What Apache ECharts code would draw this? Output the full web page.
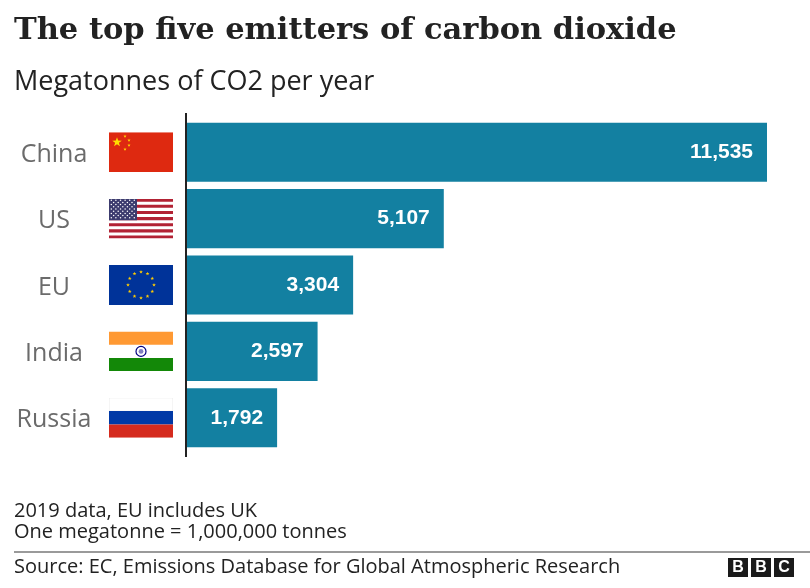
<!DOCTYPE html>
<html>
<head>
<meta charset="utf-8">
<title>The top five emitters of carbon dioxide</title>
<script src="https://cdn.jsdelivr.net/npm/echarts@6/dist/echarts.min.js"></script>
<style>
  html, body { margin: 0; padding: 0; background: #fff; }
  #chart { width: 810px; height: 588px; }
</style>
</head>
<body>
<div id="chart"></div>
<script>
// data
const countries = ['China', 'US', 'EU', 'India', 'Russia']
const emissions = [11535, 5107, 3304, 2597, 1792]

const titleText = 'The top five emitters of carbon dioxide'
const subtitleText = 'Megatonnes of CO2 per year'
const notes = ['2019 data, EU includes UK', 'One megatonne = 1,000,000 tonnes']
const sourceText = 'Source: EC, Emissions Database for Global Atmospheric Research'

const BAR = '#1380A1'
const SANS = '"Open Sans", "Noto Sans", sans-serif'

// small helpers for the flag pictures
let star = (cx, cy, r, rot) => {
  let pts = []
  for (let i = 0; i < 10; i++) {
    let rr = i % 2 === 0 ? r : r * 0.4
    let a = -Math.PI / 2 + (rot || 0) + i * Math.PI / 5
    pts.push((cx + rr * Math.cos(a)).toFixed(2) + ',' + (cy + rr * Math.sin(a)).toFixed(2))
  }
  return pts.join(' ')
}
let svgUrl = (body) => 'data:image/svg+xml;charset=utf-8,' + encodeURIComponent(
  '<svg xmlns="http://www.w3.org/2000/svg" width="64" height="40" viewBox="0 0 64 40">' + body + '</svg>')

let chinaFlag = () => {
  let s = '<rect width="64" height="40" fill="#DE2910"/>'
  s += '<polygon fill="#FFDE00" points="' + star(8, 10, 5) + '"/>'
  ;[[16, 4], [20, 8], [20, 13], [16, 17]].forEach(p => {
    s += '<polygon fill="#FFDE00" points="' + star(p[0], p[1], 1.7) + '"/>'
  })
  return svgUrl(s)
}
let usFlag = () => {
  let s = '<rect width="64" height="40" fill="#fff"/>'
  let h = 40 / 13
  for (let i = 0; i < 13; i += 2) s += '<rect y="' + (i * h).toFixed(2) + '" width="64" height="' + h.toFixed(2) + '" fill="#B22234"/>'
  s += '<rect width="28" height="' + (7 * h).toFixed(2) + '" fill="#3C3B6E"/>'
  for (let r = 0; r < 9; r++) {
    let n = r % 2 === 0 ? 6 : 5
    for (let c = 0; c < n; c++) {
      let x = (r % 2 === 0 ? 2.3 : 4.6) + c * 4.6
      s += '<circle cx="' + x.toFixed(2) + '" cy="' + (1.6 + r * 2.2).toFixed(2) + '" r="0.75" fill="#fff"/>'
    }
  }
  return svgUrl(s)
}
let euFlag = () => {
  let s = '<rect width="64" height="40" fill="#003399"/>'
  for (let i = 0; i < 12; i++) {
    let a = i * Math.PI / 6
    s += '<polygon fill="#FFCC00" points="' + star(32 + 13 * Math.sin(a), 20 - 13 * Math.cos(a), 2) + '"/>'
  }
  return svgUrl(s)
}
let indiaFlag = () => {
  let s = '<rect width="64" height="40" fill="#fff"/>'
  s += '<rect width="64" height="13.3" fill="#FF9933"/>'
  s += '<rect y="26.7" width="64" height="13.3" fill="#138808"/>'
  s += '<circle cx="32" cy="20" r="5" fill="none" stroke="#000080" stroke-width="1.2"/>'
  s += '<circle cx="32" cy="20" r="2.4" fill="#8080c0"/>'
  return svgUrl(s)
}
let russiaFlag = () => {
  let s = '<rect width="64" height="13.4" fill="#fff" stroke="#ddd" stroke-width="0.6"/>'
  s += '<rect y="13.3" width="64" height="13.4" fill="#0039A6"/>'
  s += '<rect y="26.6" width="64" height="13.4" fill="#D52B1E"/>'
  return svgUrl(s)
}
const flags = { China: chinaFlag(), US: usFlag(), EU: euFlag(), India: indiaFlag(), Russia: russiaFlag() }

let fmt = (v) => String(v).replace(/\B(?=(\d{3})+(?!\d))/g, ',')

// rich styles for the category labels
let rich = {
  name: { width: 88, align: 'center', fontSize: 25, fontFamily: SANS, color: '#6b6b6b', padding: [5, 0, 0, 0] },
  gap: { width: 11 }
}
countries.forEach(c => {
  rich['f' + c] = { width: 64, height: 40, backgroundColor: { image: flags[c] } }
})

let chart = echarts.init(document.getElementById('chart'), null, { renderer: 'canvas' })

chart.setOption({
  animation: false,
  backgroundColor: '#fff',
  grid: { left: 187, right: 43, top: 119, bottom: 137 },
  xAxis: {
    type: 'value',
    min: 0,
    max: Math.max(...emissions),
    show: false
  },
  yAxis: {
    type: 'category',
    inverse: true,
    data: countries,
    axisLine: { show: false },
    axisTick: { show: false },
    splitLine: { show: false },
    axisLabel: {
      margin: 14,
      formatter: (v) => '{name|' + v + '}{gap| }{f' + v + '| }',
      rich: rich
    }
  },
  series: [{
    type: 'bar',
    data: emissions,
    barCategoryGap: '11%',
    itemStyle: { color: BAR },
    label: {
      show: true,
      position: 'insideRight',
      distance: 14,
      color: '#fff',
      fontSize: 21,
      fontWeight: 'bold',
      fontFamily: '"Liberation Sans", Arial, sans-serif',
      formatter: (p) => fmt(p.value)
    }
  }],
  graphic: [
    { type: 'text', left: 14, top: 16, style: { text: titleText, font: 'bold 30.5px "DejaVu Serif", serif', fill: '#222' } },
    { type: 'text', left: 14, top: 69, style: { text: subtitleText, font: '27px ' + SANS, fill: '#222' } },
    { type: 'line', shape: { x1: 186, y1: 113, x2: 186, y2: 457 }, style: { stroke: '#222', lineWidth: 2 } },
    { type: 'text', left: 14, top: 501, style: { text: notes[0], font: '20px ' + SANS, fill: '#222' } },
    { type: 'text', left: 14, top: 522, style: { text: notes[1], font: '20px ' + SANS, fill: '#222' } },
    { type: 'line', shape: { x1: 14, y1: 552, x2: 810, y2: 552 }, style: { stroke: '#9a9a9a', lineWidth: 2 } },
    { type: 'text', left: 14, top: 557, style: { text: sourceText, font: '20px ' + SANS, fill: '#222' } },
    {
      type: 'group', left: 728, top: 558,
      children: ['B', 'B', 'C'].flatMap((ch, i) => [
        { type: 'rect', shape: { x: i * 23, y: 0, width: 20, height: 19 }, style: { fill: '#1a1a1a' } },
        { type: 'text', x: i * 23 + 10, y: 10, style: { text: ch, font: 'bold 16px "Liberation Sans", Arial', fill: '#fff', align: 'center', verticalAlign: 'middle' } }
      ])
    }
  ]
})
</script>
</body>
</html>
